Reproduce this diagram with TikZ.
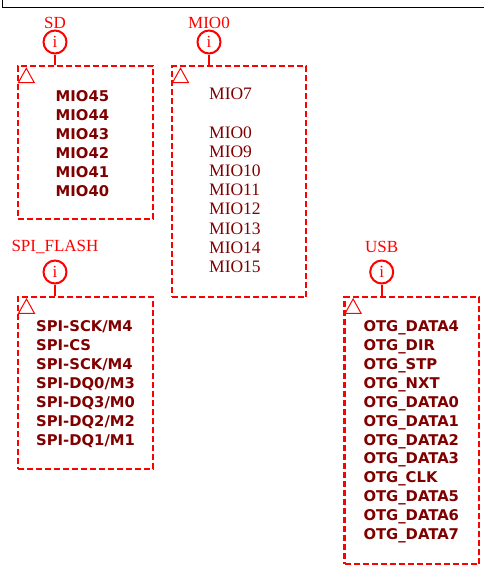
\documentclass[tikz,border=0pt]{standalone}
\usepackage{fontspec}
\setmainfont{Liberation Serif}
\newfontfamily\pinfont{DejaVu Sans}
\usepackage{tikz}
\usetikzlibrary{positioning}
\definecolor{pinred}{HTML}{FF0000}
\definecolor{pindark}{HTML}{800000}
\tikzset{grpbox/.style={draw=pinred, line width=2.4pt, dash pattern=on 6pt off 3pt, anchor=north west, inner sep=0pt}}
\tikzset{infomark/.style={circle, draw=pinred, line width=2pt, text=pinred, minimum size=23pt, inner sep=0pt, font=\fontsize{17}{17}\selectfont}}
\tikzset{grplbl/.style={text=pinred, font=\fontsize{17}{17}\selectfont, inner sep=0pt}}

\begin{document}
\begin{tikzpicture}[x=1pt, y=-1pt,
  stem/.style={draw=pinred, line width=2.2pt},
  warn/.style={draw=pinred, line width=1pt, line join=miter},
  pins/.style={anchor=north west, inner sep=0pt, align=left, text=pindark,
               font=\pinfont\bfseries\fontsize{14.8}{18.9}\selectfont},
  mios/.style={anchor=north west, inner sep=0pt, align=left, text=pindark,
               font=\fontsize{17.5}{19.2}\selectfont},
]
  \useasboundingbox (0,0) rectangle (484,573);
  % ---- frame edge ----
  \draw[line width=1pt] (2,0) -- (2,7) -- (484,7);

  % ---- SD ----
  \node[grpbox, minimum width=135pt, minimum height=153pt] (sdbox) at (16.5,65) {};
  \node[infomark] (sdmark) at ([xshift=38.5pt,yshift=23pt]sdbox.north west) {i};
  \node[grplbl, above=19pt of sdmark.center, anchor=center] (sdlbl) {SD};
  \draw[stem] (sdmark) -- (sdbox.north -| sdmark);
  \draw[warn] ([shift={(1.8pt,-17.7pt)}]sdbox.north west) -- ++(16pt,0) -- ++(-8pt,14.4pt) -- cycle;
  \node[pins] (sdpins) at (55.5,90.5)
    {MIO45\\MIO44\\MIO43\\MIO42\\MIO41\\MIO40};

  % ---- MIO0 ----
  \node[grpbox, minimum width=134.3pt, minimum height=231pt] (miobox) at (170.7,65) {};
  \node[infomark] (miomark) at ([xshift=38.3pt,yshift=23pt]miobox.north west) {i};
  \node[grplbl, above=19pt of miomark.center, anchor=center] (miolbl) {MIO0};
  \draw[stem] (miomark) -- (miobox.north -| miomark);
  \draw[warn] ([shift={(1.8pt,-17.7pt)}]miobox.north west) -- ++(16pt,0) -- ++(-8pt,14.4pt) -- cycle;
  \node[mios] (miopins) at (209,88)
    {MIO7\\[19.2pt]MIO0\\MIO9\\MIO10\\MIO11\\MIO12\\MIO13\\MIO14\\MIO15};

  % ---- SPI_FLASH ----
  \node[grpbox, minimum width=135pt, minimum height=172pt] (spibox) at (16.7,295.7) {};
  \node[infomark] (spimark) at ([xshift=38.3pt,yshift=23.7pt]spibox.north west) {i};
  \node[grplbl, above=25pt of spimark.center, anchor=center] (spilbl) {SPI\_FLASH};
  \draw[stem] (spimark) -- (spibox.north -| spimark);
  \draw[warn] ([shift={(1.8pt,-17.7pt)}]spibox.north west) -- ++(16pt,0) -- ++(-8pt,14.4pt) -- cycle;
  \node[pins] (spipins) at (36,320.5)
    {SPI-SCK/M4\\SPI-CS\\SPI-SCK/M4\\SPI-DQ0/M3\\SPI-DQ3/M0\\SPI-DQ2/M2\\SPI-DQ1/M1};

  % ---- USB ----
  \node[grpbox, minimum width=134.4pt, minimum height=267.3pt] (usbbox) at (343.3,295.7) {};
  \node[infomark] (usbmark) at ([xshift=38.4pt,yshift=23.7pt]usbbox.north west) {i};
  \node[grplbl, above=25pt of usbmark.center, anchor=center] (usblbl) {USB};
  \draw[stem] (usbmark) -- (usbbox.north -| usbmark);
  \draw[warn] ([shift={(1.8pt,-17.7pt)}]usbbox.north west) -- ++(16pt,0) -- ++(-8pt,14.4pt) -- cycle;
  \node[pins] (usbpins) at (363.3,320.5)
    {OTG\_DATA4\\OTG\_DIR\\OTG\_STP\\OTG\_NXT\\OTG\_DATA0\\OTG\_DATA1\\OTG\_DATA2\\OTG\_DATA3\\OTG\_CLK\\OTG\_DATA5\\OTG\_DATA6\\OTG\_DATA7};
\end{tikzpicture}
\end{document}
